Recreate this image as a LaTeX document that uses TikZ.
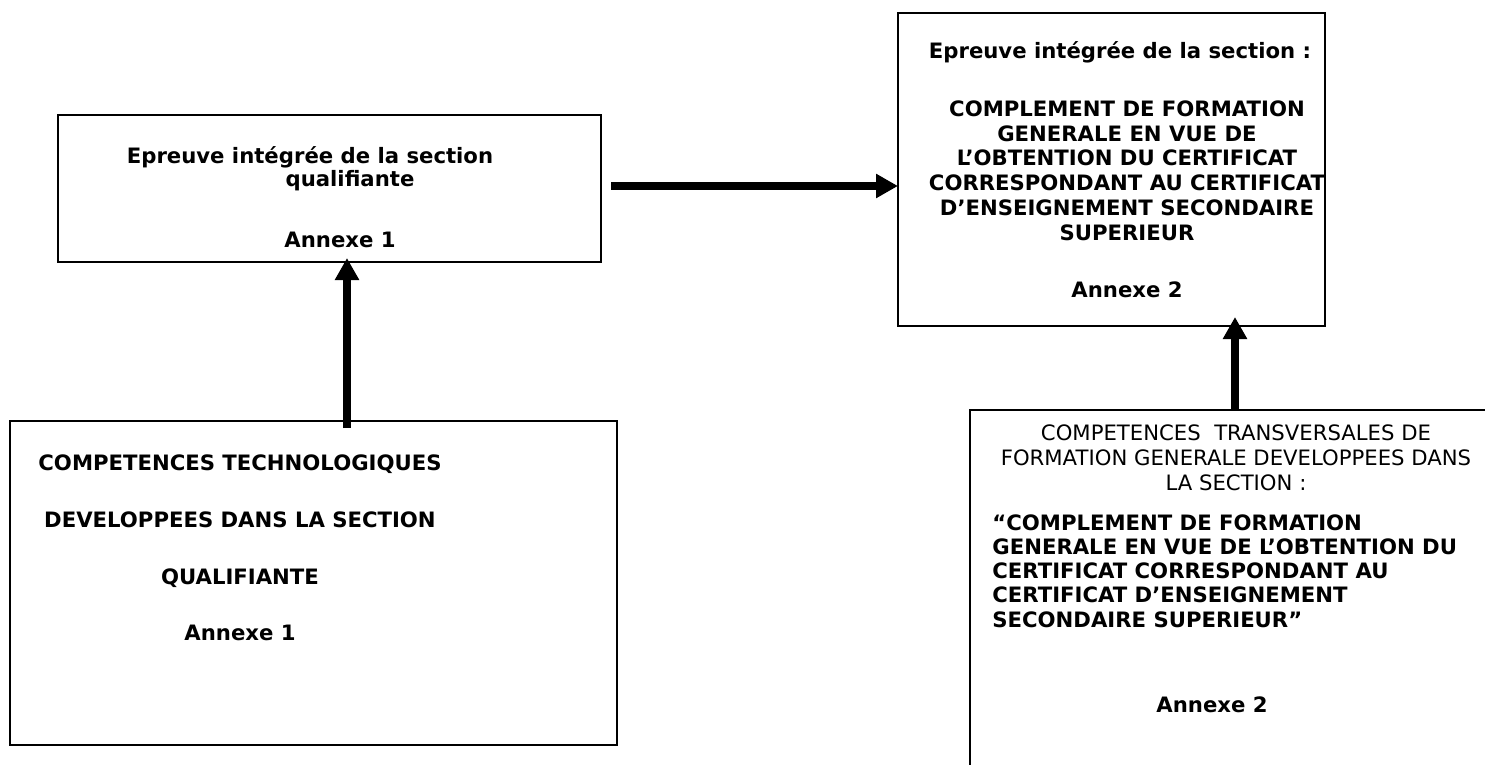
\documentclass[tikz,border=0pt]{standalone}
\usepackage{fontspec}
\setmainfont{DejaVu Sans}
\usetikzlibrary{arrows.meta,positioning,calc}

\begin{document}
\begin{tikzpicture}[
    x=0.5pt,y=-0.5pt,
    font=\fontsize{10.6pt}{12.4pt}\selectfont,
    boxframe/.style={draw, line width=0.9pt, inner sep=0pt, outer sep=0pt, anchor=north west},
    boldtext/.style={font=\fontsize{10.6pt}{12.4pt}\selectfont\bfseries, align=center, inner sep=0pt},
    plaintext/.style={align=center, inner sep=0pt},
    bigarrow/.style={-{Triangle[length=11pt,width=11.5pt]}, line width=3.6pt}
  ]
    % Seitenformat
    \useasboundingbox (0,0) rectangle (1485,765);
    \clip (0,0) rectangle (1485,765);

    % Rahmen
    \node[boxframe, minimum width=271.5pt, minimum height=73.5pt] (qualif) at (58,115) {};
    \node[boxframe, minimum width=213.5pt, minimum height=156.5pt] (cess) at (898,13) {};
    \node[boxframe, minimum width=303.5pt, minimum height=162pt] (techno) at (10,421) {};
    \node[boxframe, minimum width=265pt, minimum height=190pt] (transv) at (970,410) {};

    % Texte oben links
    \node[boldtext] (q1) at (310,157) {Epreuve intégrée de la section};
    \node[boldtext] (q2) at (350,181) {qualifiante};
    \node[boldtext] (q3) at (340,240) {Annexe 1};

    % Texte oben rechts
    \node[boldtext] (c1) at (1120,52) {Epreuve intégrée de la section :};
    \node[boldtext] (c2) at (1127,170.5) {COMPLEMENT DE FORMATION\\GENERALE EN VUE DE\\L’OBTENTION DU CERTIFICAT\\CORRESPONDANT AU CERTIFICAT\\D’ENSEIGNEMENT SECONDAIRE\\SUPERIEUR};
    \node[boldtext] (c3) at (1127,290) {Annexe 2};

    % Texte unten links
    \node[boldtext] (t1) at (240,548) {COMPETENCES TECHNOLOGIQUES\\[16pt]DEVELOPPEES DANS LA SECTION\\[16pt]QUALIFIANTE\\[16pt]Annexe 1};

    % Texte unten rechts
    \node[plaintext] (r1) at (1236,458) {COMPETENCES\ \ TRANSVERSALES DE\\FORMATION GENERALE DEVELOPPEES DANS\\LA SECTION :};
    \node[boldtext, align=left, anchor=west, font=\fontsize{10.6pt}{12.1pt}\selectfont\bfseries] (r2) at (992,571) {“COMPLEMENT DE FORMATION\\GENERALE EN VUE DE L’OBTENTION DU\\CERTIFICAT CORRESPONDANT AU\\CERTIFICAT D’ENSEIGNEMENT\\SECONDAIRE SUPERIEUR”};
    \node[boldtext] (r3) at (1212,705) {Annexe 2};

    % Pfeile
    \coordinate (h0) at (611,186);
    \coordinate (v0) at (347,428);
    \coordinate (v1) at (1235,410);
    \draw[bigarrow] (h0) -- (h0 -| cess.west);
    \draw[bigarrow] (v0) -- ([yshift=2pt]v0 |- qualif.south);
    \draw[bigarrow] (v1) -- ([yshift=4.5pt]v1 |- cess.south);
  \end{tikzpicture}
\end{document}
